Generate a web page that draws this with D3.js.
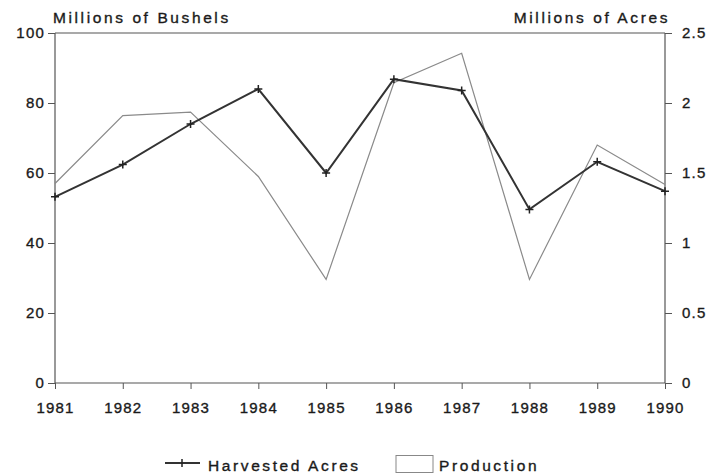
<!DOCTYPE html>
<html><head><meta charset="utf-8">
<script src="https://cdn.jsdelivr.net/npm/d3@7"></script>
<style>
body{margin:0;background:#fff;}
text{font-family:"Liberation Sans",Arial,sans-serif;fill:#1a1a1a;stroke:#1a1a1a;stroke-width:0.35px;}
</style></head>
<body><svg id="c" width="709" height="474"></svg>
<script>
const years = [1981,1982,1983,1984,1985,1986,1987,1988,1989,1990];
const harvestedAcres = [1.33,1.56,1.85,2.10,1.50,2.17,2.09,1.24,1.58,1.37];
const production = [57,76.4,77.4,59,29.6,85.8,94.2,29.6,68,56.7];
const leftTicks = [0,20,40,60,80,100];
const rightTicks = [0,0.5,1,1.5,2,2.5];

const svg = d3.select("#c");
const L=55, R=665, T=33, B=383;
const x = d3.scaleLinear().domain([1981,1990]).range([L,R]);
const yL = d3.scaleLinear().domain([0,100]).range([B,T]);
const yR = d3.scaleLinear().domain([0,2.5]).range([B,T]);

const axisColor="#555";
svg.append("line").attr("x1",L).attr("x2",R).attr("y1",T).attr("y2",T).attr("stroke",axisColor).attr("stroke-width",1.2);

const gL = svg.append("g").attr("transform",`translate(${L},0)`)
  .call(d3.axisLeft(yL).tickValues(leftTicks).tickSize(7).tickPadding(3).tickFormat(d3.format("d")));
const gR = svg.append("g").attr("transform",`translate(${R},0)`)
  .call(d3.axisRight(yR).tickValues(rightTicks).tickSize(7).tickPadding(10).tickFormat(d=>String(d)));
const gX = svg.append("g").attr("transform",`translate(0,${B})`)
  .call(d3.axisBottom(x).tickValues(years).tickSize(6).tickPadding(10).tickFormat(d3.format("d")));
[gL,gR,gX].forEach(g=>{
  g.selectAll("path").attr("stroke",axisColor).attr("stroke-width",1.2);
  g.selectAll("line").attr("stroke",axisColor).attr("stroke-width",1);
  g.selectAll("text").attr("font-size",15).style("letter-spacing","1.2px").attr("fill","#1a1a1a");
});
gL.select(".domain").attr("d",`M0,${B}V${T}`);
gR.select(".domain").attr("d",`M0,${B}V${T}`);
gX.select(".domain").attr("d",`M${L},0H${R}`);
gX.selectAll("text").attr("dy","0.95em");

const lbl = (sel)=>sel.attr("font-size",15.5).style("letter-spacing","2.6px");
lbl(svg.append("text").attr("x",53).attr("y",23)).text("Millions of Bushels");
lbl(svg.append("text").attr("x",670).attr("y",23).attr("text-anchor","end")).text("Millions of Acres");

svg.append("path").datum(production)
  .attr("d",d3.line().x((d,i)=>x(years[i])).y(d=>yL(d)))
  .attr("fill","none").attr("stroke","#8a8a8a").attr("stroke-width",1.2);

svg.append("path").datum(harvestedAcres)
  .attr("d",d3.line().x((d,i)=>x(years[i])).y(d=>yR(d)))
  .attr("fill","none").attr("stroke","#333").attr("stroke-width",2);
svg.selectAll(".m").data(harvestedAcres).join("path").attr("class","m")
  .attr("transform",(d,i)=>`translate(${x(years[i])},${yR(d)})`)
  .attr("d","M-4,0H4M0,-4V4").attr("stroke","#222").attr("stroke-width",1.5);

const lg = svg.append("g");
lg.append("line").attr("x1",165).attr("x2",200).attr("y1",463).attr("y2",463).attr("stroke","#333").attr("stroke-width",2);
lg.append("path").attr("d","M182,459V467").attr("stroke","#222").attr("stroke-width",1.5);
lbl(lg.append("text").attr("x",208).attr("y",471)).text("Harvested Acres");
lg.append("rect").attr("x",396).attr("y",455.5).attr("width",37).attr("height",17).attr("fill","#fff").attr("stroke","#888").attr("stroke-width",1);
lbl(lg.append("text").attr("x",439).attr("y",471)).text("Production");
</script></body></html>
